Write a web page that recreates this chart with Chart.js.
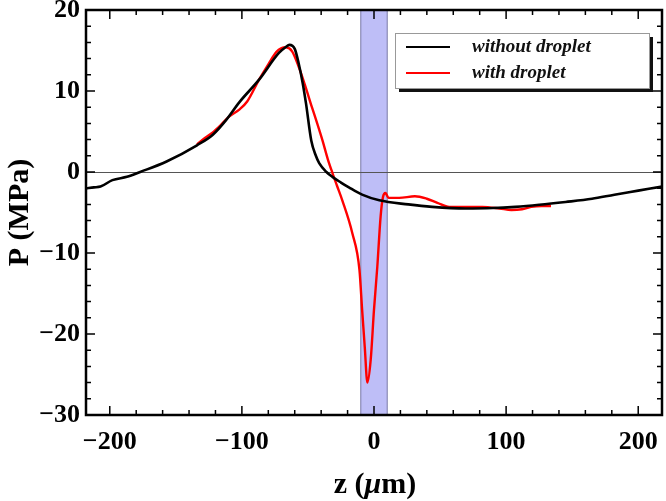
<!DOCTYPE html>
<html><head><meta charset="utf-8">
<script src="https://cdn.jsdelivr.net/npm/chart.js@4"></script>
<style>html,body{margin:0;padding:0;background:#fff}#wrap{width:666px;height:501px}</style>
</head><body><div id="wrap"><canvas id="c" width="666" height="501"></canvas></div>
<script>
const zBlack=[-218,-212,-207,-198,-187,-177,-157,-134,-122,-112,-102,-87,-72,-67,-64,-60,-57,-54,-51.5,-47.5,-44,-41.5,-36,-31.5,-25,-19,-9,4,26,44,69,90,107,125,145,165,182,200,218];
const pBlack=[-2.0,-1.9,-1.8,-1.0,-0.6,0,1.3,3.3,4.6,6.4,8.6,11.4,14.7,15.4,15.7,15.2,13.4,11.0,8.5,3.9,2.0,1.1,0,-0.6,-1.3,-1.9,-2.8,-3.5,-4.0,-4.3,-4.5,-4.45,-4.3,-4.05,-3.7,-3.3,-2.8,-2.3,-1.8];
const zRed=[-134,-128,-122,-116,-110,-102,-96,-87,-80,-74,-70,-66.5,-62,-57,-52,-47,-43,-39,-35,-31.5,-28,-24,-16.5,-11,-9,-7,-5,-2.5,0,2.5,5,6.8,8.7,11,19,31,40,48,57,70,82,95,104,112,119,127,134];
const pRed=[3.4,4.2,4.9,5.8,6.8,7.7,8.7,11.4,13.3,14.8,15.3,15.4,14.9,13.0,10.6,8.0,6.0,3.9,1.6,-0.1,-1.7,-3.5,-7.5,-12.1,-17,-21.6,-26,-23.2,-17,-11.7,-5.5,-3.1,-2.6,-3.2,-3.2,-3.0,-3.3,-3.8,-4.3,-4.3,-4.3,-4.5,-4.7,-4.6,-4.3,-4.2,-4.2];
const seriesLabels=["without droplet","with droplet"];
const xTicks=[-200,-100,0,100,200];
const yTicks=[-30,-20,-10,0,10,20];
const xMinor=[-200,-180,-160,-140,-120,-100,-80,-60,-40,-20,0,20,40,60,80,100,120,140,160,180,200];
const yMinor=[-30,-28,-26,-24,-22,-20,-18,-16,-14,-12,-10,-8,-6,-4,-2,0,2,4,6,8,10,12,14,16,18,20];
const band=[-10,10];
const xRange=[-218,218];
const yRange=[-30,20];

const fmt=v=>v<0?'\u2212'+Math.abs(v):String(v);

const deco={
  id:'deco',
  beforeDatasetsDraw(chart){
    const {ctx,chartArea:a,scales:{x,y}}=chart;
    ctx.save();
    const x0=x.getPixelForValue(band[0]),x1=x.getPixelForValue(band[1]);
    ctx.fillStyle='#bebef7';
    ctx.fillRect(x0,a.top,x1-x0,a.bottom-a.top);
    ctx.strokeStyle='#7a7aa8';ctx.lineWidth=1;
    ctx.beginPath();ctx.moveTo(x0,a.top);ctx.lineTo(x0,a.bottom);ctx.moveTo(x1,a.top);ctx.lineTo(x1,a.bottom);ctx.stroke();
    const yz=y.getPixelForValue(0);
    ctx.strokeStyle='#555';ctx.lineWidth=1;
    ctx.beginPath();ctx.moveTo(a.left,Math.round(yz)+0.5);ctx.lineTo(a.right,Math.round(yz)+0.5);ctx.stroke();
    ctx.restore();
  },
  afterDraw(chart){
    const {ctx,chartArea:a,scales:{x,y}}=chart;
    ctx.save();
    ctx.strokeStyle='#000';
    ctx.lineWidth=1.5;
    ctx.beginPath();
    xMinor.forEach(v=>{const p=x.getPixelForValue(v);const L=xTicks.includes(v)?9:5;
      ctx.moveTo(p,a.bottom);ctx.lineTo(p,a.bottom-L);ctx.moveTo(p,a.top);ctx.lineTo(p,a.top+L);});
    yMinor.forEach(v=>{const p=y.getPixelForValue(v);const L=yTicks.includes(v)?9:5;
      ctx.moveTo(a.left,p);ctx.lineTo(a.left+L,p);ctx.moveTo(a.right,p);ctx.lineTo(a.right-L,p);});
    ctx.stroke();
    ctx.lineWidth=2.5;
    ctx.strokeRect(a.left,a.top,a.right-a.left,a.bottom-a.top);
    // x title with italic mu
    const parts=[['z (','bold'],['\u03bc','bold italic'],['m)','bold']];
    let tw=0;parts.forEach(p=>{ctx.font=p[1]+' 30px "Liberation Serif"';tw+=ctx.measureText(p[0]).width;});
    let cx=(a.left+a.right)/2+1-tw/2;
    ctx.fillStyle='#000';ctx.textBaseline='alphabetic';ctx.textAlign='left';
    parts.forEach(p=>{ctx.font=p[1]+' 30px "Liberation Serif"';ctx.fillText(p[0],cx,493);cx+=ctx.measureText(p[0]).width;});
    // legend
    const lx=395,ly=33,lw=254,lh=55;
    ctx.fillStyle='#111';ctx.fillRect(lx+4,ly+4,lw,lh);
    ctx.fillStyle='#fff';ctx.fillRect(lx,ly,lw,lh);
    ctx.strokeStyle='#999';ctx.lineWidth=1;ctx.strokeRect(lx+0.5,ly+0.5,lw,lh);
    ctx.font='bold italic 19px "Liberation Serif"';ctx.textBaseline='middle';ctx.textAlign='left';
    chart.data.datasets.forEach((d,i)=>{
      const yy=ly+14+i*26;
      ctx.strokeStyle=d.borderColor;ctx.lineWidth=2;
      ctx.beginPath();ctx.moveTo(406,yy);ctx.lineTo(450,yy);ctx.stroke();
      ctx.fillStyle='#111';ctx.fillText(d.label,472,yy);
    });
    ctx.restore();
  }
};

new Chart(document.getElementById('c'),{
  type:'line',
  data:{datasets:[
    {label:seriesLabels[0],data:zBlack.map((z,i)=>({x:z,y:pBlack[i]})),borderColor:'#000',borderWidth:2.6,pointRadius:0,cubicInterpolationMode:'monotone',fill:false,order:1},
    {label:seriesLabels[1],data:zRed.map((z,i)=>({x:z,y:pRed[i]})),borderColor:'#ff0000',borderWidth:2.4,pointRadius:0,cubicInterpolationMode:'monotone',fill:false,order:2}
  ]},
  options:{
    responsive:false,animation:false,devicePixelRatio:1,
    layout:{padding:{left:0,right:4,top:10,bottom:0}},
    plugins:{legend:{display:false},tooltip:{enabled:false}},
    scales:{
      x:{type:'linear',min:xRange[0],max:xRange[1],
        afterBuildTicks:s=>{s.ticks=xTicks.map(v=>({value:v}));},
        afterFit:s=>{s.height=86;s.paddingLeft=0;s.paddingRight=0;},
        grid:{display:false,drawTicks:false},border:{display:false},
        ticks:{callback:fmt,color:'#000',padding:12,maxRotation:0,autoSkip:false,font:{family:'"Liberation Serif"',weight:'bold',size:26}},
        title:{display:false}
      },
      y:{type:'linear',min:yRange[0],max:yRange[1],
        afterBuildTicks:s=>{s.ticks=yTicks.map(v=>({value:v}));},
        afterFit:s=>{s.width=86;s.paddingTop=0;s.paddingBottom=0;},
        grid:{display:false,drawTicks:false},border:{display:false},
        ticks:{callback:fmt,color:'#000',padding:6,autoSkip:false,font:{family:'"Liberation Serif"',weight:'bold',size:26}},
        title:{display:true,text:'P (MPa)',color:'#000',padding:{top:2,bottom:0},font:{family:'"Liberation Serif"',weight:'bold',size:30}}
      }
    }
  },
  plugins:[deco]
});
</script></body></html>
